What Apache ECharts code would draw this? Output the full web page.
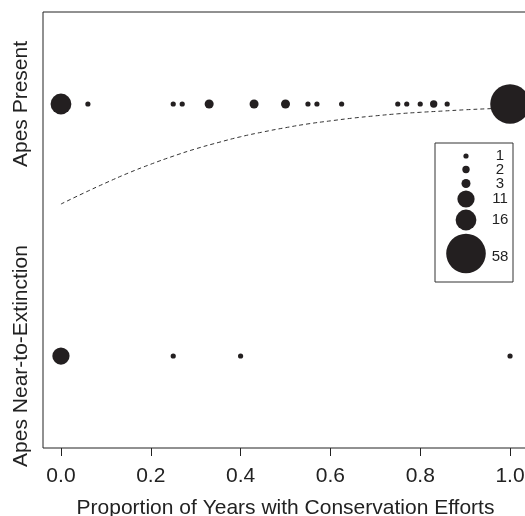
<!DOCTYPE html>
<html>
<head>
<meta charset="utf-8">
<script src="https://cdn.jsdelivr.net/npm/echarts@6/dist/echarts.min.js"></script>
<style>
html,body{margin:0;padding:0;background:#fff;}
#chart{width:525px;height:516px;}
</style>
</head>
<body>
<div id="chart"></div>
<script>
// ---- data ----
const presentX = [0.00, 0.06, 0.25, 0.27, 0.33, 0.43, 0.50, 0.55, 0.57, 0.625, 0.75, 0.77, 0.80, 0.83, 0.86, 1.00];
const presentN = [16, 1, 1, 1, 3, 3, 3, 1, 1, 1, 1, 1, 1, 2, 1, 58];
const extinctX = [0.00, 0.25, 0.40, 1.00];
const extinctN = [11, 1, 1, 1];
const curveX = [0.00, 0.05, 0.10, 0.15, 0.20, 0.25, 0.30, 0.35, 0.40, 0.45, 0.50, 0.55, 0.60, 0.65, 0.70, 0.75, 0.80, 0.85, 0.90, 0.95, 1.00];
const curveY = [0.603, 0.646, 0.687, 0.726, 0.761, 0.793, 0.822, 0.847, 0.870, 0.889, 0.906, 0.921, 0.933, 0.944, 0.953, 0.961, 0.967, 0.972, 0.977, 0.981, 0.984];
const legendCounts = [1, 2, 3, 11, 16, 58];
const xTicks = [0, 0.2, 0.4, 0.6, 0.8, 1.0];
const yTickValues = [0, 1];
const yTickLabels = ['Apes Near-to-Extinction', 'Apes Present'];
const xTitle = 'Proportion of Years with Conservation Efforts';

// ---- layout / style ----
const FONT = '"Liberation Sans", Arial, Helvetica, sans-serif';
const INK = '#231f20';
const sizeOf = n => 5.2 * Math.sqrt(n);
const legendBox = {x: 435, y: 143, w: 78, h: 139};
const legendRowY = [156, 169.5, 183.5, 199, 220, 253.5];
const legendCircleX = 466;
const legendTextX = 500;

const chart = echarts.init(document.getElementById('chart'), null, {renderer: 'canvas'});

const legendGraphics = [{
  type: 'rect',
  shape: {x: legendBox.x, y: legendBox.y, width: legendBox.w, height: legendBox.h},
  style: {fill: '#fff', stroke: '#333', lineWidth: 1},
  z: 10
}];
legendCounts.forEach((n, i) => {
  legendGraphics.push({
    type: 'circle',
    shape: {cx: legendCircleX, cy: legendRowY[i], r: sizeOf(n) / 2},
    style: {fill: INK},
    z: 11
  });
  legendGraphics.push({
    type: 'text',
    x: legendTextX, y: legendRowY[i] + (n === 58 ? 3 : 0),
    style: {text: String(n), font: '15px ' + FONT, fill: '#222', align: 'center', verticalAlign: 'middle'},
    z: 11
  });
});

chart.setOption({
  animation: false,
  backgroundColor: '#fff',
  grid: {
    left: 43, right: -3, top: 12, bottom: 68,
    containLabel: false, outerBoundsMode: 'none',
    show: true, borderColor: '#222', borderWidth: 1, backgroundColor: 'transparent'
  },
  xAxis: {
    type: 'value', min: -0.04, max: 1.04,
    splitLine: {show: false},
    axisLine: {show: false, onZero: false},
    axisTick: {show: true, inside: false, customValues: xTicks, length: 8, lineStyle: {color: '#222', width: 1}},
    axisLabel: {
      customValues: xTicks, margin: 18,
      formatter: v => v.toFixed(1),
      fontSize: 21, fontFamily: FONT, color: '#222'
    },
    name: xTitle, nameLocation: 'middle', nameGap: 50,
    nameTextStyle: {fontSize: 21, fontFamily: FONT, color: '#222'}
  },
  yAxis: {
    type: 'value', min: -0.365, max: 1.365,
    splitLine: {show: false},
    axisLine: {show: false, onZero: false},
    axisTick: {show: false},
    axisLabel: {
      customValues: yTickValues, rotate: 90, margin: 11,
      formatter: v => yTickLabels[yTickValues.indexOf(Math.round(v))],
      fontSize: 21, fontFamily: FONT, color: '#222'
    }
  },
  series: [
    {
      type: 'line', data: curveX.map((x, i) => [x, curveY[i]]),
      showSymbol: false, smooth: true,
      lineStyle: {color: '#333', width: 1, type: [4, 3]},
      z: 1
    },
    {
      type: 'scatter', data: presentX.map((x, i) => [x, 1, presentN[i]]),
      symbolSize: v => sizeOf(v[2]),
      itemStyle: {color: INK, opacity: 1},
      z: 2
    },
    {
      type: 'scatter', data: extinctX.map((x, i) => [x, 0, extinctN[i]]),
      symbolSize: v => sizeOf(v[2]),
      itemStyle: {color: INK, opacity: 1},
      z: 2
    }
  ],
  graphic: legendGraphics
});
</script>
</body>
</html>
